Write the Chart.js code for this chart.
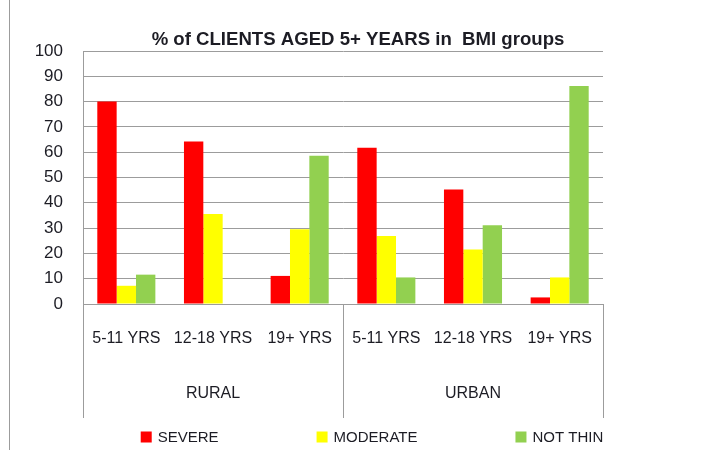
<!DOCTYPE html>
<html>
<head>
<meta charset="utf-8">
<script src="https://cdn.jsdelivr.net/npm/chart.js@4.4.0/dist/chart.umd.min.js"></script>
<style>
  html, body { margin: 0; padding: 0; background: #fff; }
  #caja { width: 702px; height: 450px; }
</style>
</head>
<body>
<div id="caja"><canvas id="grafico"></canvas></div>
<script>
// datos
const titulo = '% of CLIENTS AGED 5+ YEARS in  BMI groups'
const grupos = ['RURAL', 'URBAN']
const edades = ['5-11 YRS', '12-18 YRS', '19+ YRS']
const categorias = ['5-11 YRS', '12-18 YRS', '19+ YRS', '5-11 YRS', '12-18 YRS', '19+ YRS']
const severe = [80, 64.2, 11.1, 61.8, 45.3, 2.6]
const moderate = [7.2, 35.6, 29.5, 26.9, 21.5, 10.5]
const notThin = [11.6, 0, 58.6, 10.5, 31.1, 86.2]
const series = ['SEVERE', 'MODERATE', 'NOT THIN']
const colores = ['#ff0000', '#ffff00', '#92d050']

const fuente = '"Liberation Sans", Arial, sans-serif'
const gris = '#9c9c9c'
const texto = '#1c1c24'

// titulo, marco, grupos del eje x y leyenda se dibujan a mano
const extras = {
    id: 'extras',
    beforeDraw(chart) {
        const c = chart.ctx
        c.save()
        c.fillStyle = '#fff'
        c.fillRect(0, 0, chart.width, chart.height)
        c.strokeStyle = gris
        c.lineWidth = 1
        c.beginPath()
        c.moveTo(9.5, 0)
        c.lineTo(9.5, chart.height)
        c.stroke()
        c.restore()
    },
    afterDraw(chart) {
        const c = chart.ctx
        const x = chart.scales.x
        const area = chart.chartArea
        c.save()
        // titulo
        c.fillStyle = texto
        c.font = 'bold 18.6px ' + fuente
        c.textAlign = 'center'
        c.textBaseline = 'middle'
        c.fillText(titulo, 358, 40)

        // separadores y nombres de grupo
        const ancho = x.width / categorias.length
        const n = edades.length
        const abajo = area.bottom + 114
        c.strokeStyle = gris
        c.lineWidth = 1
        for (let g = 0; g <= grupos.length; g++) {
            const px = Math.round(x.left + g * n * ancho) + 0.5
            c.beginPath()
            c.moveTo(px, area.bottom)
            c.lineTo(px, abajo)
            c.stroke()
        }
        c.font = '16px ' + fuente
        grupos.forEach((nombre, g) => {
            const centro = x.left + (g * n + n / 2) * ancho
            c.fillText(nombre, centro, area.bottom + 90)
        })

        // leyenda
        c.font = '15px ' + fuente
        c.textAlign = 'left'
        const caja = 11, sep = 6, hueco = 98
        const anchos = series.map(s => caja + sep + c.measureText(s).width)
        const total = anchos.reduce((a, b) => a + b, 0) + hueco * (series.length - 1)
        let px = 372 - total / 2
        const py = 437
        chart.data.datasets.forEach((d, i) => {
            c.fillStyle = d.backgroundColor
            c.fillRect(px, py - caja / 2, caja, caja)
            c.fillStyle = texto
            c.fillText(d.label, px + caja + sep, py + 1)
            px += anchos[i] + hueco
        })
        c.restore()
    }
}

new Chart(document.getElementById('grafico'), {
    type: 'bar',
    data: {
        labels: categorias,
        datasets: [
            { label: series[0], data: severe, backgroundColor: colores[0] },
            { label: series[1], data: moderate, backgroundColor: colores[1] },
            { label: series[2], data: notThin, backgroundColor: colores[2] }
        ]
    },
    options: {
        responsive: true,
        maintainAspectRatio: false,
        animation: false,
        layout: { padding: { left: 10, right: 99, top: 51, bottom: 32 } },
        datasets: { bar: { categoryPercentage: 0.67, barPercentage: 1, borderWidth: 0 } },
        plugins: {
            legend: { display: false },
            title: { display: false },
            tooltip: { enabled: false }
        },
        scales: {
            x: {
                afterFit: s => { s.height = 114 },
                grid: { display: false, drawTicks: false },
                border: { display: true, color: gris },
                ticks: { color: texto, font: { family: fuente, size: 16 }, padding: 25, maxRotation: 0, autoSkip: false }
            },
            y: {
                min: 0,
                max: 100,
                afterFit: s => { s.width = 73 },
                grid: { color: gris, drawTicks: false },
                border: { display: true, color: gris },
                ticks: { stepSize: 10, color: texto, font: { family: fuente, size: 17 }, padding: 20 }
            }
        }
    },
    plugins: [extras]
})
</script>
</body>
</html>
